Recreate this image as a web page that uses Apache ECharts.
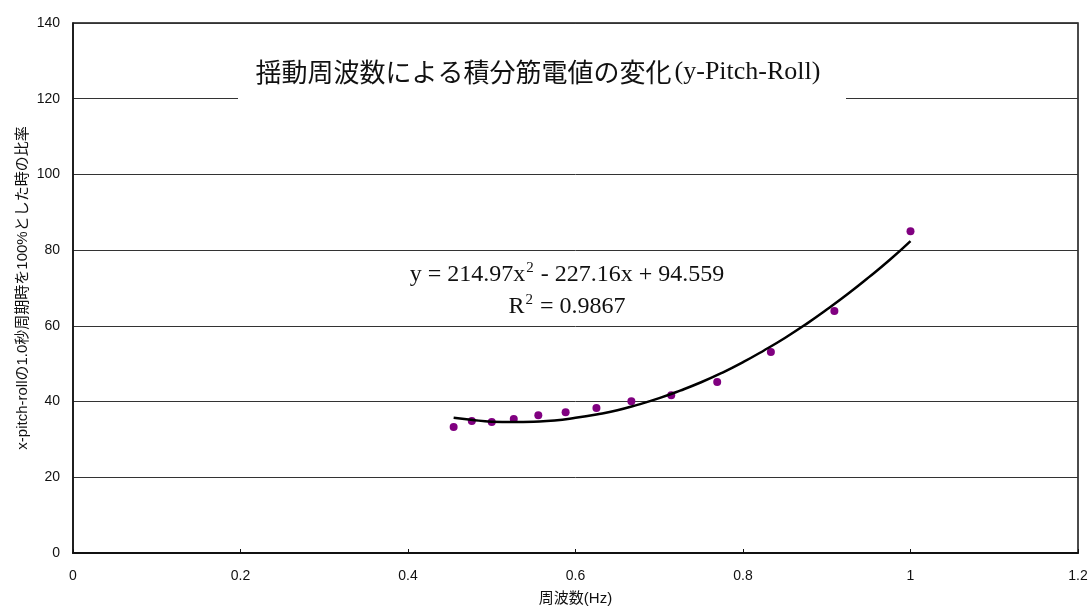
<!DOCTYPE html>
<html>
<head>
<meta charset="utf-8">
<script src="https://cdn.jsdelivr.net/npm/echarts@6/dist/echarts.min.js"></script>
<style>html,body{margin:0;padding:0;background:#fff}#c{width:1090px;height:608px}</style>
</head>
<body>
<div id="c"></div>
<script>
var freq = [0.4545, 0.4762, 0.5, 0.5263, 0.5556, 0.5882, 0.625, 0.6667, 0.7143, 0.7692, 0.8333, 0.9091, 1.0];
var ratio = [33.3, 34.9, 34.6, 35.4, 36.4, 37.2, 38.3, 40.1, 41.7, 45.2, 53.1, 63.9, 85.0];
var trendX = [0.4545, 0.475, 0.5, 0.525, 0.55, 0.575, 0.6, 0.625, 0.65, 0.675, 0.7, 0.725, 0.75, 0.775, 0.8, 0.825, 0.85, 0.875, 0.9, 0.925, 0.95, 0.975, 1.0];
var trendY = [35.7, 35.2, 34.7, 34.6, 34.7, 35.0, 35.7, 36.6, 37.7, 39.2, 40.9, 42.9, 45.1, 47.6, 50.4, 53.5, 56.8, 60.4, 64.3, 68.4, 72.8, 77.4, 82.4];
var titleJa = '揺動周波数による積分筋電値の変化';
var titleEn = '(y-Pitch-Roll)';
var yName = 'x-pitch-rollの1.0秒周期時を100%とした時の比率';
var xName = '周波数(Hz)';

var chart = echarts.init(document.getElementById('c'), null, {renderer: 'canvas'});
var sans = '"Liberation Sans", Arial, "Noto Sans CJK JP", sans-serif';
var serif = '"Liberation Serif", "Times New Roman", serif';
chart.setOption({
  animation: false,
  backgroundColor: '#fff',
  grid: {left: 73, right: 12, top: 23, bottom: 55, outerBoundsMode: 'none', containLabel: false,
         show: true, borderColor: '#111', borderWidth: 1.5, backgroundColor: 'transparent'},
  xAxis: {
    type: 'value', min: 0, max: 1.2, interval: 0.2,
    name: xName, nameLocation: 'middle', nameGap: 38,
    nameTextStyle: {fontFamily: sans, fontSize: 15, color: '#111'},
    axisLine: {lineStyle: {color: '#111', width: 2}},
    axisTick: {show: true, inside: true, length: 4, lineStyle: {color: '#111'}},
    axisLabel: {fontFamily: sans, fontSize: 14, color: '#111', margin: 16, formatter: function(v){return String(+v.toFixed(1));}},
    splitLine: {show: false}
  },
  yAxis: {
    type: 'value', min: 0, max: 140, interval: 20,
    name: yName, nameLocation: 'middle', nameGap: 43, nameMoveOverlap: false,
    nameTextStyle: {fontFamily: sans, fontSize: 15, color: '#111'},
    axisLine: {lineStyle: {color: '#111', width: 1.5}},
    axisTick: {show: false},
    axisLabel: {fontFamily: sans, fontSize: 14, color: '#111', margin: 13},
    splitLine: {show: true, lineStyle: {color: '#333', width: 1}}
  },
  series: [
    {
      type: 'scatter', data: freq.map(function(x, i){return [x, ratio[i]];}),
      symbol: 'circle', symbolSize: 8, itemStyle: {color: '#800080', opacity: 1}, z: 3
    },
    {
      type: 'line', data: trendX.map(function(x, i){return [x, trendY[i]];}),
      smooth: true, showSymbol: false, symbol: 'none',
      lineStyle: {color: '#000', width: 2.5}, z: 4
    }
  ],
  graphic: [
    {type: 'rect', z: 10, shape: {x: 238, y: 30, width: 608, height: 69}, style: {fill: '#fff'}},
    {type: 'text', z: 11, position: [538, 72], style: {
      text: '{ja|' + titleJa + '}{en|' + titleEn + '}',
      textAlign: 'center', textVerticalAlign: 'middle', align: 'center', verticalAlign: 'middle',
      rich: {
        ja: {fontFamily: '"Noto Sans CJK JP", sans-serif', fontSize: 26, fill: '#111', padding: [0, 3, 0, 0]},
        en: {fontFamily: serif, fontSize: 26, fill: '#111'}
      }
    }},
    {type: 'text', z: 11, position: [567, 287], style: {
      text: '{n|y = 214.97x}{s|2}{n| - 227.16x + 94.559}\n{n|R}{s|2}{n| = 0.9867}',
      textAlign: 'center', textVerticalAlign: 'middle', align: 'center', verticalAlign: 'middle',
      rich: {
        n: {fontFamily: serif, fontSize: 24, fill: '#111', lineHeight: 32, verticalAlign: 'bottom'},
        s: {fontFamily: serif, fontSize: 15, fill: '#111', lineHeight: 32, padding: [0, 1, 11, 1], verticalAlign: 'bottom'}
      }
    }}
  ]
});
</script>
</body>
</html>
